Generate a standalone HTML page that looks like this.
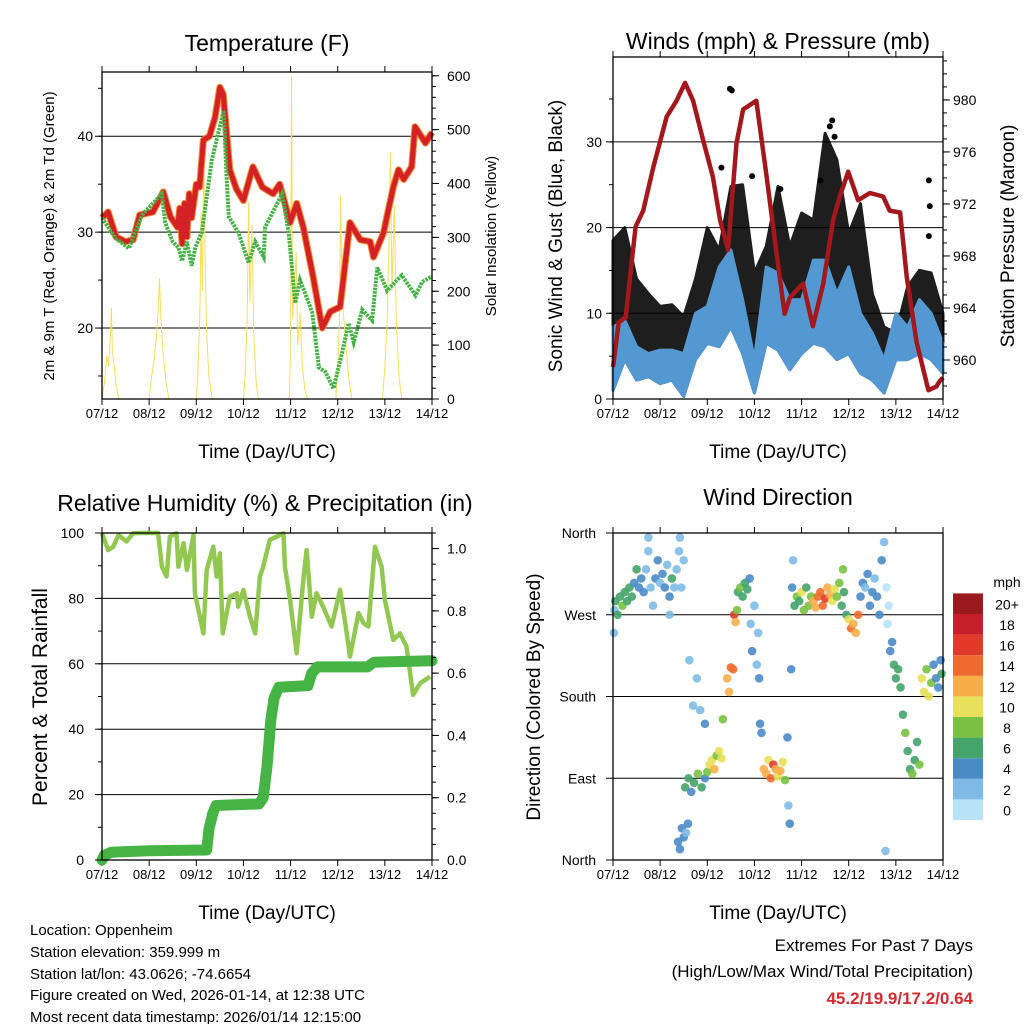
<!DOCTYPE html>
<html><head><meta charset="utf-8"><style>
body{margin:0;background:#fff}
svg{display:block;font-family:"Liberation Sans",Arial,sans-serif}
</style></head><body>
<svg id="s" width="1024" height="1024" viewBox="0 0 1024 1024">
<rect width="1024" height="1024" fill="#fff"/>
<text x="267" y="51" font-size="23" text-anchor="middle">Temperature (F)</text>
<text x="778" y="49" font-size="23" text-anchor="middle">Winds (mph) &amp; Pressure (mb)</text>
<text x="265" y="511" font-size="23" text-anchor="middle">Relative Humidity (%) &amp; Precipitation (in)</text>
<text x="778" y="505" font-size="23" text-anchor="middle">Wind Direction</text>
<text x="267" y="458" font-size="19" text-anchor="middle">Time (Day/UTC)</text>
<text x="778" y="458" font-size="19" text-anchor="middle">Time (Day/UTC)</text>
<text x="267" y="919" font-size="19" text-anchor="middle">Time (Day/UTC)</text>
<text x="778" y="919" font-size="19" text-anchor="middle">Time (Day/UTC)</text>
<text transform="translate(54,236) rotate(-90)" font-size="15" text-anchor="middle">2m &amp; 9m T (Red, Orange) &amp; 2m Td (Green)</text>
<text transform="translate(496,236) rotate(-90)" font-size="15" text-anchor="middle">Solar Insolation (Yellow)</text>
<text transform="translate(562,236) rotate(-90)" font-size="19" text-anchor="middle">Sonic Wind &amp; Gust (Blue, Black)</text>
<text transform="translate(1014,236) rotate(-90)" font-size="19" text-anchor="middle">Station Pressure (Maroon)</text>
<text transform="translate(47,697) rotate(-90)" font-size="21" text-anchor="middle">Percent &amp; Total Rainfall</text>
<text transform="translate(540,697) rotate(-90)" font-size="19" text-anchor="middle">Direction (Colored By Speed)</text>
<g font-size="15">
<text x="30" y="935">Location: Oppenheim</text>
<text x="30" y="957">Station elevation: 359.999 m</text>
<text x="30" y="979">Station lat/lon: 43.0626; -74.6654</text>
<text x="30" y="1000">Figure created on Wed, 2026-01-14, at 12:38 UTC</text>
<text x="30" y="1022">Most recent data timestamp: 2026/01/14 12:15:00</text>
</g>
<text x="973" y="951" font-size="17" text-anchor="end">Extremes For Past 7 Days</text>
<text x="973" y="977" font-size="17" text-anchor="end">(High/Low/Max Wind/Total Precipitation)</text>
<text x="973" y="1004" font-size="17" font-weight="bold" fill="#d42a32" text-anchor="end">45.2/19.9/17.2/0.64</text>
<text x="1007" y="587" font-size="14" text-anchor="middle">mph</text>
</svg>
<script>
const dayLabels=['07/12','08/12','09/12','10/12','11/12','12/12','13/12','14/12'];
// Temperature
const tempT=[0,0.13,0.3,0.5,0.66,0.8,1.08,1.3,1.45,1.6,1.65,1.7,1.75,1.8,1.85,1.9,2.0,2.07,2.15,2.28,2.4,2.5,2.57,2.71,2.85,3.0,3.2,3.4,3.63,3.77,3.99,4.13,4.27,4.48,4.67,4.84,5.05,5.26,5.48,5.69,5.76,5.97,6.18,6.29,6.4,6.57,6.64,6.86,7];
const tempV=[31.5,32.1,29.5,29.0,29.2,31.8,32.1,34.2,31.6,30.5,32.5,28.8,33,29.5,34,31.5,35,34.7,39.6,40,42,45.1,44.4,36.5,34.5,33.3,36.8,34.7,34,35,31,33,30.5,25.3,20,21.7,22.2,31,29.2,29,27.4,29.9,34.7,36.5,35.5,36.8,41,39.3,40.4];
const dewT=[0,0.28,0.57,0.85,1.27,1.34,1.5,1.62,1.7,1.8,1.9,1.98,2.12,2.33,2.58,2.65,2.69,2.9,3.11,3.25,3.43,3.46,3.82,3.96,4.1,4.2,4.31,4.46,4.6,4.74,4.91,5.09,5.23,5.34,5.52,5.73,5.84,6.05,6.22,6.36,6.65,6.79,7];
const dewV=[31.5,29.4,28.3,31.8,34,31,29,28.4,27,29,26.5,28.4,30,37.5,42.7,35.1,31.6,29.9,26.8,29,27.4,30.5,34,29.9,22.6,25,23.6,21.6,15.9,15.4,13.7,17.4,20.5,18.5,21.9,20.8,26.3,23.9,24.8,25.5,23.4,24.8,25.4];
const solarT=[0,0.05,0.1,0.14,0.18,0.2,0.22,0.26,0.3,0.36,1.0,1.05,1.1,1.15,1.19,1.22,1.25,1.3,1.36,1.42,2.0,2.04,2.08,2.1,2.13,2.16,2.19,2.22,2.27,2.34,3.0,3.04,3.08,3.11,3.14,3.18,3.22,3.27,3.32,3.97,4.0,4.02,4.04,4.08,4.12,4.15,4.2,4.25,4.3,4.36,4.96,5.0,5.04,5.06,5.09,5.13,5.18,5.23,5.3,5.95,6.0,6.05,6.09,6.12,6.15,6.2,6.24,6.3,6.36,7];
const solarV=[0,30,80,60,120,169,90,60,25,0,0,40,70,110,160,224,150,80,30,0,0,60,180,347,200,470,250,120,40,0,0,50,150,365,180,323,120,30,0,0,80,598,150,200,273,100,160,60,20,0,0,60,150,378,200,150,95,40,0,0,60,150,300,457,200,360,150,40,0,0];
const tempTicks=[20,30,40];const solarTicks=[0,100,200,300,400,500,600];
// Winds
const windT=[0,0.25,0.5,0.75,1,1.25,1.5,1.75,2,2.25,2.5,2.75,3,3.25,3.5,3.75,4,4.25,4.5,4.75,5,5.25,5.5,5.75,6,6.25,6.5,6.75,7];
const gustHi=[18.5,20,14,12.3,10.8,11,9.6,14,20,17.4,24.8,25,14.7,17.8,24.8,17.8,21.7,20.9,31,27.9,19.3,22.8,12.3,8.4,7.7,13.1,15,14.7,10];
const windHi=[8.4,9.2,6.1,5.3,5.7,5.7,5.3,10,10.8,15.4,17.4,11.6,4.6,15.4,14.7,11.6,11.6,16.2,16.2,12.3,15.4,10,7.7,4.6,10,8.4,11.6,10,6.5];
const windLo=[1,4.6,2.2,2.6,1.8,2.2,0.3,4.6,6.5,6.1,8.4,5.3,0.7,6.5,5.7,3.4,5.3,6.5,6.1,4.6,5.3,3,2.2,0.7,4.6,4.6,5.3,4.6,3];
const gustOutT=[2.48,2.52,2.3,2.95,3.55,4.6,4.65,4.7,4.4,6.7,6.72,6.7];
const gustOutV=[36.2,36,27,26,24.5,31.8,32.5,30.6,25.5,25.5,22.5,19];
const presT=[0,0.12,0.27,0.48,0.64,0.86,1.14,1.35,1.53,1.7,1.91,2.12,2.27,2.44,2.62,2.76,3.04,3.25,3.47,3.64,3.75,4.03,4.24,4.46,4.67,4.81,4.99,5.2,5.45,5.73,5.87,6.09,6.23,6.44,6.69,6.86,6.93,7];
const presV=[959.46,962.88,963.28,970.25,971.48,974.89,978.71,979.94,981.31,979.94,976.94,974.07,970.79,968.47,976.66,979.26,979.94,974.34,968.2,963.55,964.78,965.88,962.6,965.88,970.79,972.57,974.48,972.29,972.84,972.57,971.48,971.34,966.42,961.37,957.68,957.96,958.37,958.64];
const windTicks=[0,10,20,30];const presTicks=[960,964,968,972,976,980];
// RH & precip
const rhT=[0,0.13,0.24,0.35,0.52,0.66,0.81,1.19,1.27,1.37,1.44,1.58,1.62,1.73,1.8,1.94,1.97,2.15,2.22,2.36,2.43,2.5,2.56,2.71,2.86,2.89,3.0,3.14,3.25,3.35,3.42,3.56,3.71,3.85,3.88,3.99,4.13,4.27,4.34,4.45,4.55,4.69,4.87,5.05,5.16,5.26,5.44,5.55,5.65,5.79,5.93,6.0,6.18,6.32,6.46,6.6,6.75,6.96];
const rhV=[99.9,94.8,95.8,99.4,97.4,99.9,100,100,89.7,86.7,98.9,99.9,89.7,96.9,88.7,99.4,81.6,69.3,88.7,95.8,86.7,93.8,69.3,80.5,81.6,77.5,82.6,74.4,69.3,86.7,89.7,97.9,98.9,99.9,89.7,79.5,63.2,85.6,94.8,74.4,81.6,77.5,71.4,82.6,72.4,62.2,75.5,72.4,71.4,95.8,89.7,79.5,67.3,69.3,65.3,50.5,54.1,56.1];
const prT=[0,0.05,0.2,1.0,2.22,2.27,2.35,2.42,3.33,3.42,3.5,3.58,3.65,3.75,4.37,4.45,4.57,5.63,5.77,7];
const prV=[0,0.015,0.025,0.03,0.032,0.1,0.15,0.175,0.18,0.2,0.3,0.45,0.52,0.555,0.56,0.6,0.62,0.62,0.635,0.64];
const rhTicks=[0,20,40,60,80,100];const prTicks=[0,0.2,0.4,0.6,0.8,1.0];const prLabels=['0.0','0.2','0.4','0.6','0.8','1.0'];
// Wind direction [time, direction, speed]
const dirT=[0.02,0.03,0.05,0.1,0.15,0.2,0.25,0.3,0.35,0.4,0.45,0.5,0.55,0.6,0.65,0.7,0.75,0.8,0.85,0.9,0.95,1.0,1.05,1.1,1.15,1.2,1.25,1.3,1.35,1.4,1.42,1.45,1.5,0.75,1.2,1.38,1.42,1.46,1.5,1.55,1.59,1.53,1.6,1.66,1.72,1.8,1.88,1.95,1.62,1.7,1.78,1.85,1.95,2.0,2.05,2.1,2.15,2.2,2.25,2.3,2.33,2.42,2.46,2.5,2.55,2.57,2.6,2.63,2.65,2.7,2.75,2.8,2.85,2.9,2.92,2.95,3.0,3.05,3.08,3.1,3.12,3.15,3.2,3.25,3.3,3.35,3.4,3.45,3.5,3.55,3.6,3.65,3.7,3.72,3.75,3.78,3.8,3.82,3.85,3.9,3.95,4.0,4.05,4.1,4.15,4.2,4.25,4.3,4.35,4.4,4.45,4.5,4.55,4.6,4.65,4.7,4.75,4.8,4.85,4.88,4.9,4.95,5.0,5.05,5.1,5.15,5.2,5.25,5.3,5.35,5.4,5.45,5.5,5.55,5.6,5.65,5.7,5.75,5.78,5.8,5.82,5.85,5.88,5.92,5.96,6.0,6.05,6.1,6.15,6.2,6.25,6.3,6.35,6.4,6.45,6.5,6.55,6.6,6.65,6.7,6.75,6.8,6.85,6.9,6.95,6.97];
const dirV=[250,275,285,270,290,280,295,285,300,290,305,320,300,310,295,320,340,300,280,310,330,305,315,300,325,290,310,300,320,340,355,300,330,355,270,20,12,35,25,30,40,80,90,75,85,95,80,90,220,170,200,165,150,97,105,110,100,115,120,112,155,200,185,212,210,270,262,275,295,300,290,305,298,310,260,230,280,215,250,200,150,140,100,95,110,90,105,100,92,98,108,88,135,60,40,210,300,330,280,290,285,295,275,300,280,290,285,278,290,295,280,288,300,292,285,298,290,305,280,320,295,270,265,255,260,250,270,290,305,300,315,280,295,310,290,270,330,350,10,300,260,280,230,240,215,200,210,190,160,140,120,100,95,110,130,105,200,185,210,180,195,215,200,190,220,205,230];
const dirS=[3,2,6,7,7,8,7,6,7,6,5,7,4,4,4,3,2,3,2,4,4,3,4,4,3,4,6,3,2,2,2,3,2,2,2,4,4,4,4,3,4,6,6,4,7,8,6,4,2,2,3,2,4,9,11,10,12,8,10,11,8,13,12,15,14,16,12,8,7,8,7,6,7,4,3,4,3,2,3,4,4,4,12,13,11,14,16,13,11,12,10,9,4,3,4,4,4,3,6,8,7,10,8,7,9,8,12,13,14,15,14,16,13,12,11,10,8,9,7,8,7,6,10,14,13,12,14,4,4,3,4,4,5,3,4,4,4,2,2,1,1,0,4,5,6,7,6,7,6,8,7,6,8,7,6,9,10,11,8,10,9,4,4,5,4,6,5];
const speedColors=['#b7e2f8','#7fbbe6','#4a8bc6','#45a46c','#7ac143','#e7e05a','#f8ae48','#ef6a2e','#e23a2a','#c61e2a','#9a1a1d'];
const speedLabels=['0','2','4','6','8','10','12','14','16','18','20+'];
const dirTicks=[0,90,180,270,360];const dirLabels=['North','East','South','West','North'];

const svg=document.getElementById('s');const NS='http://www.w3.org/2000/svg';
function mk(tag,attrs,name,parent){const el=document.createElementNS(NS,tag);for(const k in attrs)el.setAttribute(k,attrs[k]);


(parent||svg).appendChild(el);return el;}
function txt(x,y,s,anchor,size,name){const t=mk('text',{x:x,y:y,'font-size':size,'text-anchor':anchor},name);t.textContent=s;return t;}
function lin(a,b,c,d){return v=>c+(v-a)*(d-c)/(b-a);}
function pathD(xs,ys,sx,sy){return xs.map((t,i)=>(i?'L':'M')+sx(t).toFixed(1)+','+sy(ys[i]).toFixed(1)).join('');}
function band(xs,hi,lo,sx,sy){let d=xs.map((t,i)=>(i?'L':'M')+sx(t).toFixed(1)+','+sy(hi[i]).toFixed(1)).join('');for(let i=xs.length-1;i>=0;i--)d+='L'+sx(xs[i]).toFixed(1)+','+sy(lo[i]).toFixed(1);return d+'Z';}
function frame(x0,x1,y0,y1,pre,ly){const sx=lin(0,7,x0,x1);
for(let i=0;i<8;i++){const x=sx(i);mk('line',{x1:x,x2:x,y1:y1,y2:y1+6,stroke:'#000'},pre+'-x-tick');mk('line',{x1:x,x2:x,y1:y0,y2:y0-6,stroke:'#000'},pre+'-top-tick');
txt(x,ly,dayLabels[i],'middle',13,pre+'-x-label');}
return sx;}
function box(x0,x1,y0,y1,name){mk('rect',{x:x0,y:y0,width:x1-x0,height:y1-y0,fill:'none',stroke:'#000','stroke-width':1.3},name);}
function grid(vals,sy,x0,x1,name){vals.forEach(v=>mk('line',{x1:x0,x2:x1,y1:sy(v),y2:sy(v),stroke:'#000','stroke-width':1},name));}
function yTicks(vals,labels,sy,x,dir,lx,anchor,name,minor,mstep,mlo,mhi){
if(minor){for(let v=mlo;v<=mhi+1e-9;v+=mstep){mk('line',{x1:x,x2:x+dir*4,y1:sy(v),y2:sy(v),stroke:'#000'},name+'-minor-tick');}}
vals.forEach((v,i)=>{mk('line',{x1:x,x2:x+dir*7,y1:sy(v),y2:sy(v),stroke:'#000'},name+'-tick');txt(lx,sy(v)+5,labels[i],anchor,14,name+'-label');});}

// Panel 1
{const x0=102,x1=432,y0=72,y1=399;const sx=frame(x0,x1,y0,y1,'temp',418);
const sy=lin(12.6,46.7,y1,y0);const sr=lin(0,607,y1,y0);
grid(tempTicks,sy,x0,x1,'temp-gridline');
mk('path',{d:pathD(solarT,solarV,sx,sr),fill:'none',stroke:'#f8dc5a','stroke-width':1},'solar-line');
mk('path',{d:pathD(tempT,tempV,sx,sy),fill:'none',stroke:'#f08a30','stroke-width':7,'stroke-linejoin':'round'},'temp-9m-line');
mk('path',{d:pathD(tempT,tempV,sx,sy),fill:'none',stroke:'#d42126','stroke-width':5,'stroke-linejoin':'round'},'temp-2m-line');
mk('path',{d:pathD(dewT,dewV,sx,sy),fill:'none',stroke:'#45b045','stroke-width':4,'stroke-dasharray':'2.5 1'},'dewpoint-line');
box(x0,x1,y0,y1,'temp-plot-frame');
yTicks(tempTicks,tempTicks.map(String),sy,x0,-1,93,'end','temp-y',true,5,15,45);
yTicks(solarTicks,solarTicks.map(String),sr,x1,1,447,'start','solar-y',true,20,0,600);}
// Panel 2
{const x0=613,x1=943,y0=57,y1=399;const sx=frame(x0,x1,y0,y1,'wind',418);
const sy=lin(0,39.9,y1,y0);const sp=lin(957.0,983.3,y1,y0);
grid([10,20,30],sy,x0,x1,'wind-gridline');
mk('path',{d:band(windT,gustHi,windLo,sx,sy),fill:'#000','stroke':'#000','stroke-width':3,'stroke-linejoin':'round','opacity':0.88},'gust-band');
gustOutT.forEach((t,i)=>{mk('circle',{cx:sx(t),cy:sy(gustOutV[i]),r:3,fill:'#000'},'gust-point');});
mk('path',{d:band(windT,windHi,windLo,sx,sy),fill:'#5498d2',stroke:'#5498d2','stroke-width':3,'stroke-linejoin':'round'},'wind-band');
mk('path',{d:pathD(presT,presV,sx,sp),fill:'none',stroke:'#a3181c','stroke-width':4.5,'stroke-linejoin':'round'},'pressure-line');
box(x0,x1,y0,y1,'wind-plot-frame');
yTicks(windTicks,windTicks.map(String),sy,x0,-1,602,'end','wind-y',true,5,0,35);
yTicks(presTicks,presTicks.map(String),sp,x1,1,953,'start','pressure-y',true,1,958,983);}
// Panel 3
{const x0=102,x1=432,y0=533,y1=860;const sx=frame(x0,x1,y0,y1,'rh',879);
const sy=lin(0,100,y1,y0);const sq=lin(0,1.05,y1,y0);
grid([20,40,60,80],sy,x0,x1,'rh-gridline');
mk('path',{d:pathD(rhT,rhV,sx,sy),fill:'none',stroke:'#92c851','stroke-width':4.5,'stroke-linejoin':'round'},'rh-line');
mk('path',{d:pathD(prT,prV,sx,sq),fill:'none',stroke:'#45b444','stroke-width':11,'stroke-linejoin':'round','stroke-linecap':'round'},'precip-line');
box(x0,x1,y0,y1,'rh-plot-frame');
yTicks(rhTicks,rhTicks.map(String),sy,x0,-1,84,'end','rh-y',true,10,0,100);
yTicks(prTicks,prLabels,sq,x1,1,447,'start','precip-y',true,0.05,0,1.05);}
// Panel 4
{const x0=613,x1=943,y0=533,y1=860;const sx=frame(x0,x1,y0,y1,'dir',879);
const sy=lin(0,360,y1,y0);
grid([90,180,270],sy,x0,x1,'dir-gridline');
dirT.forEach((t,i)=>{const c=speedColors[Math.min(10,Math.floor(dirS[i]/2))];
mk('circle',{cx:sx(t),cy:sy(dirV[i]),r:4.3,fill:c,opacity:0.9},'direction-point');});
box(x0,x1,y0,y1,'dir-plot-frame');
yTicks(dirTicks,dirLabels,sy,x0,-1,596,'end','dir-y',false);
speedColors.forEach((c,i)=>{const y=820-(i+1)*20.6;mk('rect',{x:953,y:y,width:30,height:20.6,fill:c},'colorbar-box');
txt(1007,y+16,speedLabels[i],'middle',14,'colorbar-label');});}
</script>
</body></html>
